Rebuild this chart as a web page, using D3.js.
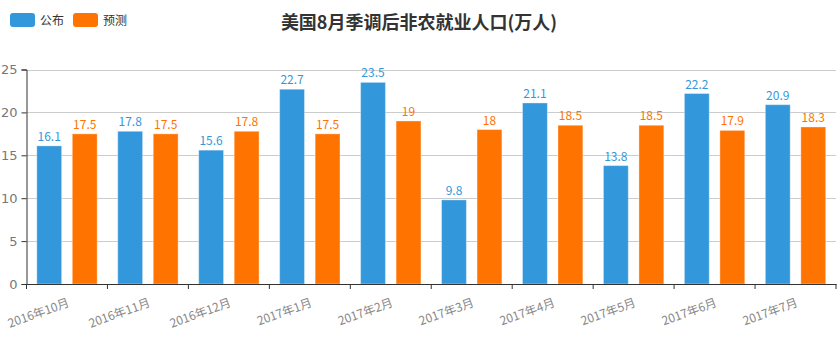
<!DOCTYPE html>
<html>
<head>
<meta charset="utf-8">
<script src="https://cdn.jsdelivr.net/npm/d3@7"></script>
<style>
  html, body { margin: 0; padding: 0; background: #fff; }
  svg { display: block; font-family: "Microsoft YaHei", "Noto Sans CJK SC", sans-serif; }
</style>
</head>
<body>
<svg id="chart" width="838" height="340"></svg>
<script>
// Monthly nonfarm payrolls, seasonally adjusted (10k persons)
const months = ["2016年10月", "2016年11月", "2016年12月", "2017年1月", "2017年2月",
                "2017年3月", "2017年4月", "2017年5月", "2017年6月", "2017年7月"];
const published = [16.1, 17.8, 15.6, 22.7, 23.5, 9.8, 21.1, 13.8, 22.2, 20.9];
const forecast  = [17.5, 17.5, 17.8, 17.5, 19, 18, 18.5, 18.5, 17.9, 18.3];
const seriesNames = ["公布", "预测"];
const yTicks = [0, 5, 10, 15, 20, 25];
const titleText = "美国8月季调后非农就业人口(万人)";

const colors = ["#3398DB", "#FF7300"];
const series = [published, forecast];

const svg = d3.select("#chart");
const margin = { left: 26.5, right: 2, top: 69.5, bottom: 56 };
const W = 838, H = 340;

const x = d3.scaleBand().domain(months).range([margin.left, W - margin.right]).paddingInner(0).paddingOuter(0);
const y = d3.scaleLinear().domain([0, 25]).range([H - margin.bottom, margin.top]);

// inner band for the two bars of a month
const sub = d3.scaleBand().domain([0, 1]).range([0, x.bandwidth()]).paddingInner(0.3).paddingOuter(0.29);

// grid
svg.append("g").selectAll("line").data(yTicks.filter(d => d > 0)).join("line")
  .attr("x1", margin.left).attr("x2", W - margin.right)
  .attr("y1", d => Math.round(y(d)) + 0.5).attr("y2", d => Math.round(y(d)) + 0.5)
  .attr("stroke", "#ccc").attr("stroke-width", 1);

// bars
series.forEach((vals, si) => {
  svg.append("g").selectAll("rect").data(vals).join("rect")
    .attr("x", (d, i) => x(months[i]) + sub(si))
    .attr("y", d => y(d))
    .attr("width", sub.bandwidth())
    .attr("height", d => y(0) - y(d))
    .attr("fill", colors[si])
    .attr("stroke", "rgba(255,255,255,0.35)")
    .attr("stroke-width", 1);
  svg.append("g").selectAll("text").data(vals).join("text")
    .attr("x", (d, i) => x(months[i]) + sub(si) + sub.bandwidth() / 2)
    .attr("y", d => y(d) - 5)
    .attr("text-anchor", "middle")
    .attr("font-size", 12)
    .attr("fill", colors[si])
    .text(d => d);
});

// y axis
const yAxis = svg.append("g").attr("transform", `translate(${margin.left},0)`)
  .call(d3.axisLeft(y).tickValues(yTicks).tickSize(5).tickPadding(4));
yAxis.select(".domain").attr("stroke", "#333");
yAxis.selectAll(".tick line").attr("stroke", "#333");
yAxis.selectAll(".tick text").attr("fill", "#777").attr("font-size", 13)
  .attr("font-family", "Verdana, 'DejaVu Sans', sans-serif");

// x axis
const xAxis = svg.append("g").attr("transform", `translate(0,${y(0)})`)
  .call(d3.axisBottom(x).tickSizeOuter(0).tickSize(0));
xAxis.select(".domain").attr("stroke", "#333");
xAxis.selectAll(".tick text").remove();
// boundary ticks between categories
svg.append("g").selectAll("line").data(d3.range(months.length + 1)).join("line")
  .attr("x1", i => margin.left + i * x.step()).attr("x2", i => margin.left + i * x.step())
  .attr("y1", y(0)).attr("y2", y(0) + 5)
  .attr("stroke", "#333");
svg.append("g").selectAll("text").data(months).join("text")
  .attr("transform", d => `translate(${x(d) + x.bandwidth() / 2 + 3},${y(0) + 22}) rotate(-20)`)
  .attr("text-anchor", "end")
  .attr("font-size", 12)
  .attr("fill", "#888")
  .text(d => d);

// title
svg.append("text").attr("x", 419).attr("y", 29).attr("text-anchor", "middle")
  .attr("font-size", 18).attr("font-weight", "bold").attr("fill", "#333")
  .text(titleText);

// legend
const lg = svg.append("g");
seriesNames.forEach((n, i) => {
  const g = lg.append("g").attr("transform", `translate(${10 + i * 63},13)`);
  g.append("rect").attr("width", 25).attr("height", 14).attr("rx", 3).attr("fill", colors[i]);
  g.append("text").attr("x", 30).attr("y", 12).attr("font-size", 12).attr("fill", "#333").text(n);
});
</script>
</body>
</html>
